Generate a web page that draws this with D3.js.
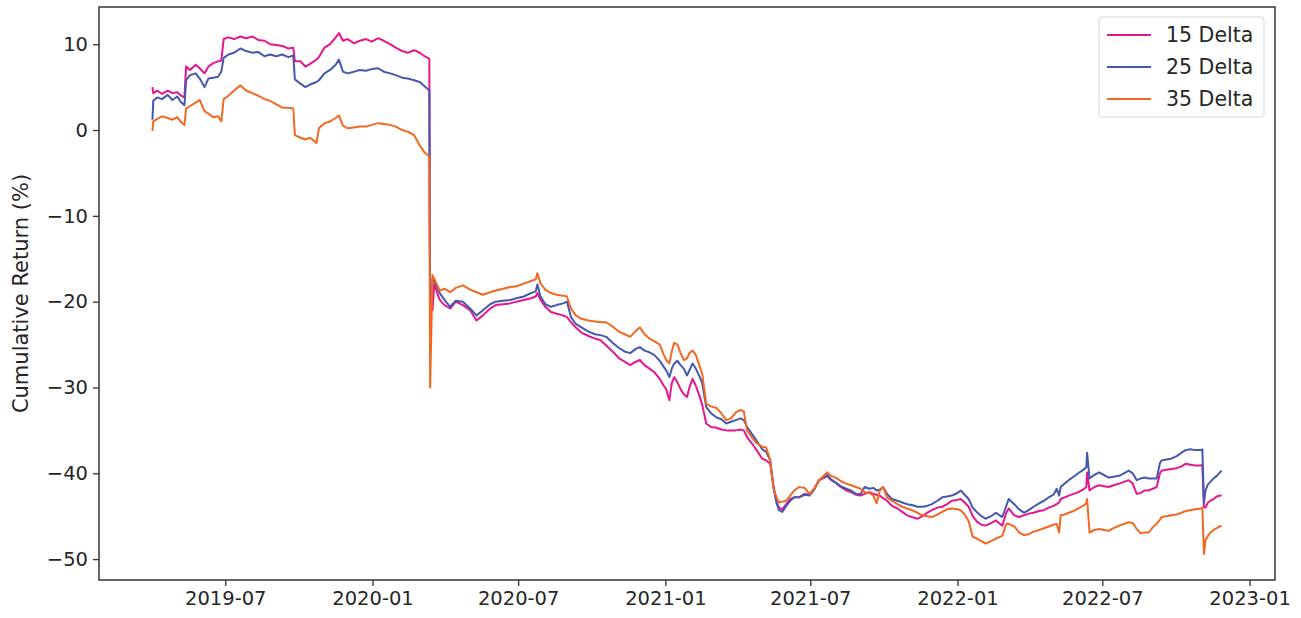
<!DOCTYPE html>
<html>
<head>
<meta charset="utf-8">
<script src="https://cdn.jsdelivr.net/npm/d3@7"></script>
<style>
  html, body { margin: 0; padding: 0; background: #ffffff; }
  svg { display: block; }
  text { font-family: "DejaVu Sans", sans-serif; }
</style>
</head>
<body>
<svg id="chart" width="1301" height="618"></svg>
<script>
const dates = [
"2019-04-01","2019-04-02","2019-04-07","2019-04-13","2019-04-20","2019-04-26","2019-05-02","2019-05-07","2019-05-11","2019-05-13",
"2019-05-18","2019-05-25","2019-05-30","2019-06-05","2019-06-10","2019-06-16","2019-06-22","2019-06-26","2019-06-29","2019-07-05",
"2019-07-12","2019-07-20","2019-07-27","2019-08-04","2019-08-11","2019-08-19","2019-08-26","2019-09-03","2019-09-10","2019-09-18",
"2019-09-24","2019-09-26","2019-10-03","2019-10-09","2019-10-15","2019-10-23","2019-10-26","2019-11-02","2019-11-09","2019-11-16",
"2019-11-20","2019-11-25","2019-12-01","2019-12-09","2019-12-16","2019-12-24","2019-12-31","2020-01-08","2020-01-15","2020-01-23",
"2020-01-30","2020-02-07","2020-02-14","2020-02-22","2020-02-29","2020-03-06","2020-03-12","2020-03-13","2020-03-16","2020-03-18",
"2020-03-25","2020-03-31","2020-04-07","2020-04-14","2020-04-23","2020-05-02","2020-05-10","2020-05-18","2020-05-27","2020-06-03",
"2020-06-12","2020-06-21","2020-06-29","2020-07-08","2020-07-17","2020-07-23","2020-07-25","2020-07-29","2020-08-04","2020-08-11",
"2020-08-18","2020-08-26","2020-08-31","2020-09-05","2020-09-11","2020-09-18","2020-09-27","2020-10-05","2020-10-12","2020-10-19",
"2020-10-27","2020-11-04","2020-11-11","2020-11-18","2020-11-25","2020-11-30","2020-12-06","2020-12-12","2020-12-18","2020-12-25",
"2020-12-30","2021-01-02","2021-01-06","2021-01-09","2021-01-12","2021-01-16","2021-01-20","2021-01-24","2021-01-28","2021-01-31",
"2021-02-04","2021-02-08","2021-02-13","2021-02-16","2021-02-21","2021-02-27","2021-03-06","2021-03-12","2021-03-18","2021-03-24",
"2021-03-30","2021-04-05","2021-04-09","2021-04-13","2021-04-19","2021-04-25","2021-05-02","2021-05-07","2021-05-12","2021-05-16",
"2021-05-20","2021-05-23","2021-05-27","2021-06-01","2021-06-06","2021-06-11","2021-06-17","2021-06-24","2021-06-30","2021-07-06",
"2021-07-12","2021-07-19","2021-07-22","2021-07-27","2021-08-02","2021-08-08","2021-08-15","2021-08-21","2021-08-27","2021-09-02",
"2021-09-07","2021-09-13","2021-09-18","2021-09-22","2021-09-26","2021-09-30","2021-10-05","2021-10-11","2021-10-18","2021-10-24",
"2021-10-30","2021-11-05","2021-11-12","2021-11-18","2021-11-24","2021-11-30","2021-12-07","2021-12-13","2021-12-19","2021-12-25",
"2022-01-01","2022-01-05","2022-01-10","2022-01-15","2022-01-20","2022-01-25","2022-01-31","2022-02-05","2022-02-12","2022-02-18",
"2022-02-26","2022-03-03","2022-03-06","2022-03-13","2022-03-19","2022-03-25","2022-03-31","2022-04-06","2022-04-13","2022-04-19",
"2022-04-25","2022-05-01","2022-05-05","2022-05-08","2022-05-10","2022-05-15","2022-05-20","2022-05-26","2022-06-01","2022-06-07",
"2022-06-11","2022-06-12","2022-06-15","2022-06-21","2022-06-27","2022-07-03","2022-07-09","2022-07-15","2022-07-22","2022-07-28",
"2022-08-03","2022-08-08","2022-08-13","2022-08-18","2022-08-23","2022-08-28","2022-09-02","2022-09-07","2022-09-11","2022-09-13",
"2022-09-19","2022-09-25","2022-10-02","2022-10-08","2022-10-13","2022-10-19","2022-10-25","2022-11-01","2022-11-03","2022-11-05",
"2022-11-07","2022-11-10","2022-11-13","2022-11-17","2022-11-21","2022-11-25","2022-11-27"
];

const delta15 = [
5.0,4.3,4.6,4.2,4.6,4.3,4.4,4.0,3.8,7.4,
7.0,7.6,7.2,6.6,7.4,7.8,8.0,8.1,10.6,10.8,
10.6,10.9,10.7,10.9,10.5,10.4,10.0,9.9,9.8,9.5,
9.6,8.0,8.0,7.4,7.7,8.2,8.5,9.6,10.0,10.8,
11.3,10.4,10.6,10.1,10.4,10.6,10.3,10.7,10.4,10.0,
9.6,9.2,9.0,9.3,9.0,8.6,8.3,-20.0,-21.0,-18.0,
-19.8,-20.4,-20.8,-20.0,-20.4,-21.0,-22.2,-21.6,-20.8,-20.4,
-20.3,-20.2,-20.0,-19.8,-19.6,-19.4,-19.0,-19.8,-20.6,-21.2,
-21.4,-21.6,-21.8,-22.4,-23.0,-23.6,-24.0,-24.3,-24.5,-25.1,
-25.8,-26.6,-27.0,-27.4,-27.0,-26.8,-27.4,-27.8,-28.2,-29.0,
-29.8,-30.2,-31.5,-29.5,-28.8,-29.4,-30.2,-30.8,-31.1,-30.0,
-29.0,-29.8,-31.1,-32.0,-34.2,-34.6,-34.7,-34.9,-35.0,-35.0,
-35.0,-34.9,-35.0,-35.8,-36.5,-37.3,-38.3,-38.5,-38.9,-41.5,
-43.4,-44.0,-44.2,-43.6,-43.0,-42.8,-42.8,-42.4,-42.5,-41.8,
-40.8,-40.5,-40.3,-40.8,-41.1,-41.6,-42.0,-42.2,-42.5,-42.6,
-42.4,-42.2,-42.4,-42.5,-42.6,-42.9,-43.2,-43.8,-44.1,-44.5,
-44.9,-45.1,-45.3,-45.0,-44.6,-44.3,-44.0,-43.9,-43.6,-43.2,
-43.1,-43.0,-43.4,-43.9,-45.0,-45.6,-46.0,-46.1,-45.8,-45.5,
-46.1,-44.6,-44.1,-44.9,-45.1,-44.9,-44.7,-44.6,-44.4,-44.3,
-44.0,-43.8,-43.6,-43.4,-43.0,-42.8,-42.6,-42.4,-42.2,-41.9,
-41.6,-39.9,-42.0,-41.6,-41.4,-41.5,-41.6,-41.4,-41.2,-41.0,
-40.8,-41.2,-42.4,-42.3,-42.0,-42.0,-41.8,-41.6,-40.0,-39.7,
-39.6,-39.5,-39.4,-39.2,-38.9,-39.0,-39.1,-39.1,-39.0,-43.9,
-44.0,-43.4,-43.2,-43.0,-42.7,-42.6,-42.6
];

const delta25 = [
1.2,3.4,3.8,3.6,4.1,3.5,3.9,3.2,2.9,5.8,
6.4,6.6,6.0,5.0,6.0,6.1,6.2,6.8,8.4,8.8,
9.0,9.5,9.2,9.0,9.1,8.6,8.8,8.6,8.8,8.5,
8.7,5.9,5.4,5.0,5.3,5.6,5.8,6.6,7.0,7.6,
8.2,6.8,6.6,6.8,7.0,6.9,7.1,7.2,6.8,6.6,
6.4,6.1,6.0,5.8,5.6,5.1,4.6,-23.0,-17.3,-17.6,
-19.0,-19.8,-20.6,-19.9,-20.0,-20.8,-21.6,-21.0,-20.3,-20.0,
-19.9,-19.8,-19.6,-19.4,-19.0,-18.8,-18.0,-19.4,-20.3,-20.6,
-20.4,-20.2,-20.0,-21.8,-22.6,-23.0,-23.5,-23.8,-23.9,-24.1,
-24.8,-25.4,-25.8,-26.0,-25.5,-25.3,-25.7,-25.9,-26.2,-26.9,
-27.6,-28.0,-28.8,-27.8,-27.2,-26.9,-27.4,-27.8,-28.6,-28.0,
-27.2,-27.8,-28.8,-29.5,-32.3,-33.0,-33.5,-33.7,-34.2,-34.0,
-33.8,-33.6,-33.8,-34.6,-35.4,-36.2,-37.2,-37.5,-38.5,-41.5,
-43.5,-44.3,-44.5,-43.8,-43.2,-42.8,-42.8,-42.5,-42.6,-41.9,
-40.8,-40.4,-40.2,-40.7,-41.1,-41.5,-41.8,-42.0,-42.4,-42.4,
-41.6,-41.8,-41.7,-42.0,-41.9,-41.6,-42.4,-43.0,-43.2,-43.4,
-43.6,-43.7,-43.9,-43.9,-43.8,-43.6,-43.2,-42.8,-42.7,-42.6,
-42.3,-42.0,-42.5,-43.0,-44.0,-44.5,-45.0,-45.3,-45.0,-44.6,
-45.1,-43.8,-43.0,-43.6,-44.2,-44.6,-44.3,-43.9,-43.5,-43.2,
-42.8,-42.5,-41.8,-42.6,-41.6,-41.2,-40.8,-40.4,-40.0,-39.6,
-39.3,-37.6,-40.6,-40.2,-39.9,-40.2,-40.5,-40.4,-40.3,-40.0,
-39.7,-40.0,-40.8,-40.6,-40.5,-40.6,-40.6,-40.6,-38.8,-38.5,
-38.4,-38.3,-38.0,-37.6,-37.3,-37.2,-37.3,-37.3,-37.2,-43.5,
-42.0,-41.3,-41.0,-40.6,-40.3,-39.9,-39.7
];

const delta35 = [
-0.1,1.0,1.3,1.6,1.4,1.2,1.5,0.9,0.6,2.5,
2.8,3.2,3.5,2.2,1.9,1.5,1.6,1.0,3.6,4.0,
4.6,5.2,4.6,4.3,4.0,3.6,3.4,3.0,2.6,2.6,
2.5,-0.6,-0.9,-1.1,-0.9,-1.5,0.2,0.8,1.0,1.4,
1.7,0.5,0.2,0.3,0.4,0.4,0.6,0.8,0.7,0.6,
0.4,0.0,-0.2,-0.6,-1.8,-2.6,-3.1,-30.0,-16.9,-17.3,
-18.7,-18.5,-18.9,-18.4,-18.1,-18.6,-18.9,-19.2,-18.9,-18.7,
-18.5,-18.3,-18.2,-17.9,-17.6,-17.4,-16.7,-17.9,-18.6,-19.0,
-19.2,-19.3,-19.4,-20.8,-21.6,-22.0,-22.2,-22.3,-22.4,-22.4,
-22.9,-23.5,-23.8,-24.1,-23.4,-23.0,-23.8,-24.3,-24.6,-25.0,
-26.2,-26.8,-27.2,-25.8,-24.8,-25.0,-26.0,-26.8,-26.6,-26.0,
-25.7,-26.2,-27.6,-28.4,-31.9,-32.2,-32.4,-33.0,-33.8,-33.6,
-32.9,-32.6,-32.8,-35.0,-35.8,-36.5,-36.9,-37.0,-38.5,-41.8,
-42.8,-43.4,-43.3,-43.2,-42.6,-42.0,-41.6,-41.7,-42.4,-41.8,
-40.8,-40.2,-39.9,-40.3,-40.5,-40.9,-41.2,-41.4,-41.6,-41.8,
-42.2,-42.3,-42.6,-43.5,-42.0,-41.6,-42.8,-43.2,-43.6,-43.9,
-44.1,-44.3,-44.6,-44.9,-45.0,-45.1,-44.8,-44.5,-44.2,-44.1,
-44.2,-44.3,-44.8,-45.6,-47.4,-47.6,-47.9,-48.2,-47.9,-47.6,
-47.3,-45.9,-45.9,-46.2,-46.9,-47.2,-47.1,-46.8,-46.6,-46.4,
-46.2,-46.0,-45.9,-46.9,-44.9,-44.8,-44.6,-44.4,-44.1,-43.8,
-43.5,-43.0,-46.9,-46.6,-46.5,-46.6,-46.7,-46.4,-46.1,-45.9,
-45.7,-45.8,-46.5,-47.0,-46.9,-46.9,-46.3,-45.9,-45.4,-45.1,
-45.0,-44.9,-44.8,-44.6,-44.4,-44.3,-44.2,-44.1,-44.0,-49.4,
-47.8,-47.3,-46.9,-46.6,-46.4,-46.2,-46.1
];

const seriesNames = ["15 Delta", "25 Delta", "35 Delta"];
const seriesColors = ["#e5168e", "#4458b0", "#f26822"];
const xTickLabels = ["2019-07","2020-01","2020-07","2021-01","2021-07","2022-01","2022-07","2023-01"];
const yTickValues = [-50, -40, -30, -20, -10, 0, 10];
const yLabel = "Cumulative Return (%)";

const parse = d3.timeParse("%Y-%m-%d");
const parseMonth = d3.timeParse("%Y-%m");
const seriesData = [delta15, delta25, delta35].map(vals =>
  dates.map((d, i) => ({ date: parse(d), value: vals[i] })));

const margin = { left: 99, top: 7, right: 1301 - 1275, bottom: 618 - 580 };
const W = 1301, H = 618;
const svg = d3.select("#chart");

// matplotlib-style 5% margins
const xExt = d3.extent(dates.map(parse));
const xPad = (xExt[1] - xExt[0]) * 0.05;
const allVals = [].concat(delta15, delta25, delta35);
const yExt = d3.extent(allVals);
const yPad = (yExt[1] - yExt[0]) * 0.05;

const x = d3.scaleTime()
  .domain([new Date(+xExt[0] - xPad), new Date(+xExt[1] + xPad)])
  .range([margin.left, W - margin.right]);
const y = d3.scaleLinear()
  .domain([yExt[0] - yPad, yExt[1] + yPad])
  .range([H - margin.bottom, margin.top]);

const fontSize = 19.5;
const textColor = "#262626";

// axes
const xAxis = d3.axisBottom(x)
  .tickValues(xTickLabels.map(parseMonth))
  .tickFormat((d, i) => xTickLabels[i])
  .tickSizeOuter(0).tickSize(6).tickPadding(5);
const gx = svg.append("g").attr("transform", `translate(0,${H - margin.bottom})`).call(xAxis);

const yAxis = d3.axisLeft(y)
  .tickValues(yTickValues)
  .tickFormat(d => (d < 0 ? "\u2212" + Math.abs(d) : String(d)))
  .tickSizeOuter(0).tickSize(6).tickPadding(5);
const gy = svg.append("g").attr("transform", `translate(${margin.left},0)`).call(yAxis);

[gx, gy].forEach(g => {
  g.select(".domain").remove();
  g.selectAll(".tick line").attr("stroke", "#333").attr("stroke-width", 1.3);
  g.selectAll(".tick text").attr("fill", textColor).style("font-size", fontSize + "px")
    .style("font-family", "'DejaVu Sans', sans-serif");
});

// y label
svg.append("text")
  .attr("transform", `translate(28,${(margin.top + H - margin.bottom) / 2}) rotate(-90)`)
  .attr("text-anchor", "middle")
  .attr("fill", textColor)
  .style("font-size", (fontSize + 1.5) + "px")
  .text(yLabel);

// lines
const line = d3.line().x(d => x(d.date)).y(d => y(d.value));
seriesData.forEach((data, i) => {
  svg.append("path")
    .datum(data)
    .attr("fill", "none")
    .attr("stroke", seriesColors[i])
    .attr("stroke-width", 2)
    .attr("stroke-linejoin", "round")
    .attr("d", line);
});

// frame
svg.append("rect")
  .attr("x", margin.left).attr("y", margin.top)
  .attr("width", W - margin.right - margin.left)
  .attr("height", H - margin.bottom - margin.top)
  .attr("fill", "none").attr("stroke", "#333").attr("stroke-width", 1.5);

// legend
const lg = svg.append("g").attr("transform", "translate(1099,17)");
lg.append("rect")
  .attr("width", 165).attr("height", 100).attr("rx", 3)
  .attr("fill", "#fff").attr("stroke", "#d6d6d6").attr("stroke-width", 1);
seriesNames.forEach((name, i) => {
  const cy = 18 + i * 32;
  lg.append("line").attr("x1", 8).attr("x2", 52).attr("y1", cy).attr("y2", cy)
    .attr("stroke", seriesColors[i]).attr("stroke-width", 2);
  lg.append("text").attr("x", 67).attr("y", cy).attr("dy", "0.35em")
    .attr("fill", textColor).style("font-size", (fontSize + 1) + "px").text(name);
});
</script>
</body>
</html>
